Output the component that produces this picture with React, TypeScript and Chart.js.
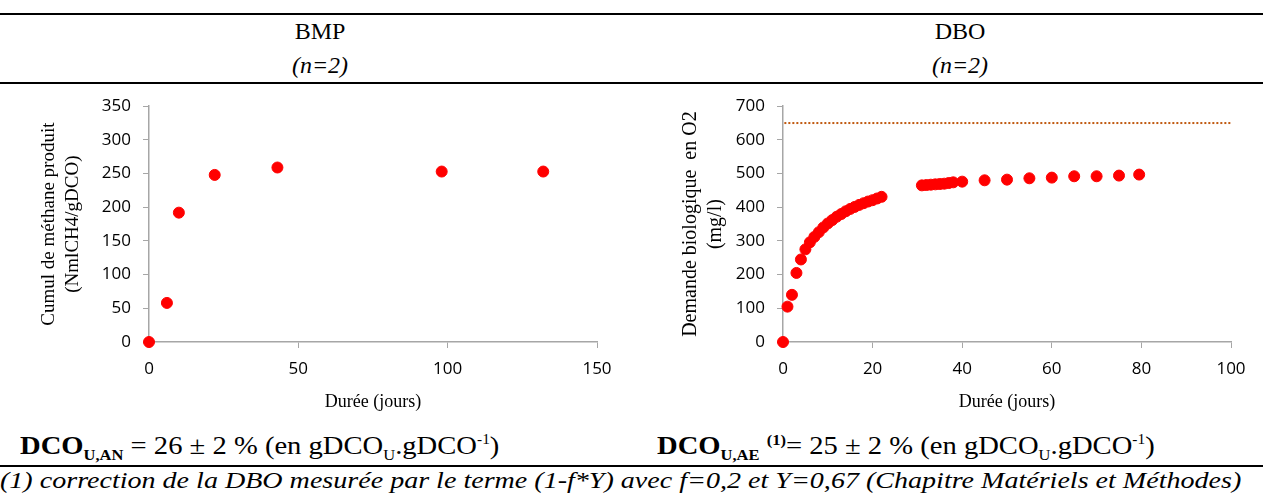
import React, { useEffect, useRef } from "react";
import { Chart, registerables } from "chart.js";

Chart.register(...registerables);

// BMP data
const bmpDays = [0, 6, 10, 22, 43, 98, 132];
const bmpValues = [0, 58, 192, 248, 259, 253, 253];
const bmpXTicks = [0, 50, 100, 150];
const bmpYTicks = [0, 50, 100, 150, 200, 250, 300, 350];

// DBO data
const dboDays = [0, 1, 2, 3, 4, 5, 6, 7, 8, 9, 10, 11, 12, 13, 14, 15, 16, 17, 18, 19, 20, 21, 22,
  31, 32, 33, 34, 35, 36, 37, 38, 40, 45, 50, 55, 60, 65, 70, 75, 79.5];
const dboValues = [0, 105, 140, 205, 245, 275, 296, 312, 326, 340, 352, 362, 372, 380, 388, 395, 401, 407, 412, 417, 421, 426, 431,
  465, 466, 467, 468, 469, 470, 472, 474, 476, 480, 482, 486, 488, 492, 492, 494, 497];
const dboRefLevel = 650;
const dboRefDays = [0.3, 100];
const dboXTicks = [0, 20, 40, 60, 80, 100];
const dboYTicks = [0, 100, 200, 300, 400, 500, 600, 700];

const AXIS_GRAY = "#a6a6a6";
const TICK_FONT = { family: "'Open Sans', 'Noto Sans', sans-serif", size: 17 };
const SERIF = "'Liberation Serif', 'Times New Roman', serif";

function makeScales(xMax: number, xStep: number, yMax: number, yStep: number, yTitle: string[], yTitleSize: number, yWidth: number, xHeight: number) {
  return {
    x: {
      type: "linear" as const,
      min: 0,
      max: xMax,
      ticks: { stepSize: xStep, color: "#000", font: TICK_FONT, padding: 11 },
      grid: { drawOnChartArea: false, drawTicks: true, tickLength: 6, color: AXIS_GRAY },
      border: { color: AXIS_GRAY, width: 1.5 },
      title: { display: true, text: "Durée (jours)", color: "#000", font: { family: SERIF, size: 18 }, padding: { top: 0, bottom: 8 } },
      afterFit: (s: any) => { s.height = xHeight; },
    },
    y: {
      type: "linear" as const,
      min: 0,
      max: yMax,
      ticks: { stepSize: yStep, color: "#000", font: TICK_FONT, padding: 12 },
      grid: { drawOnChartArea: false, drawTicks: true, tickLength: 6, color: AXIS_GRAY },
      border: { color: AXIS_GRAY, width: 1.5 },
      title: { display: true, text: yTitle, color: "#000", font: { family: SERIF, size: yTitleSize, lineHeight: 1.25 }, padding: { top: 0, bottom: 0 } },
      afterFit: (s: any) => { s.width = yWidth; },
    },
  };
}

function BmpChart() {
  const ref = useRef<HTMLCanvasElement>(null);
  useEffect(() => {
    const chart = new Chart(ref.current!, {
      type: "scatter",
      data: {
        datasets: [
          {
            data: bmpDays.map((d, i) => ({ x: d, y: bmpValues[i] })),
            backgroundColor: "#ff0000",
            borderColor: "#ff0000",
            pointRadius: 5.5,
            clip: false,
          } as any,
        ],
      },
      options: {
        animation: false,
        responsive: true,
        maintainAspectRatio: false,
        layout: { padding: { left: 37, right: 34, top: 8, bottom: 0 } },
        plugins: { legend: { display: false }, tooltip: { enabled: false } },
        scales: makeScales(bmpXTicks[bmpXTicks.length - 1], bmpXTicks[1] - bmpXTicks[0], bmpYTicks[bmpYTicks.length - 1], bmpYTicks[1] - bmpYTicks[0], ["Cumul de méthane produit", "(NmlCH4/gDCO)"], 19, 112, 79) as any,
      },
    });
    return () => chart.destroy();
  }, []);
  return <canvas ref={ref} />;
}

function DboChart() {
  const ref = useRef<HTMLCanvasElement>(null);
  useEffect(() => {
    const chart = new Chart(ref.current!, {
      type: "scatter",
      data: {
        datasets: [
          {
            data: dboRefDays.map((d) => ({ x: d, y: dboRefLevel })),
            showLine: true,
            borderColor: "#c0590f",
            borderWidth: 2,
            borderDash: [2, 2],
            pointRadius: 0,
          },
          {
            data: dboDays.map((d, i) => ({ x: d, y: dboValues[i] })),
            backgroundColor: "#ff0000",
            borderColor: "#ff0000",
            pointRadius: 5.5,
            clip: false,
          } as any,
        ],
      },
      options: {
        animation: false,
        responsive: true,
        maintainAspectRatio: false,
        layout: { padding: { left: 38, right: 32, top: 9, bottom: 0 } },
        plugins: { legend: { display: false }, tooltip: { enabled: false } },
        scales: makeScales(dboXTicks[dboXTicks.length - 1], dboXTicks[1] - dboXTicks[0], dboYTicks[dboYTicks.length - 1], dboYTicks[1] - dboYTicks[0], ["Demande biologique  en O2", "(mg/l)"], 20, 105, 79) as any,
      },
    });
    return () => chart.destroy();
  }, []);
  return <canvas ref={ref} />;
}

export default function App() {
  useEffect(() => {
    document.body.style.margin = "0";
  }, []);
  const rule = (top: number): React.CSSProperties => ({ position: "absolute", left: 0, top, width: 1263, height: 2, background: "#000" });
  const head: React.CSSProperties = { position: "absolute", width: 640, textAlign: "center", fontFamily: SERIF, fontSize: 24, lineHeight: "28px", color: "#000" };
  const big: React.CSSProperties = { fontFamily: SERIF, fontSize: 26, color: "#000", whiteSpace: "nowrap", position: "absolute", top: 423, lineHeight: "34px", transformOrigin: "0 0", transform: "scaleX(1.1)" };
  return (
    <div style={{ position: "relative", width: 1263, height: 493, background: "#fff", overflow: "hidden" }}>
      <div style={rule(13)} />
      <div style={{ ...head, left: 0, top: 17 }}>BMP</div>
      <div style={{ ...head, left: 0, top: 51, fontStyle: "italic" }}>(n=2)</div>
      <div style={{ ...head, left: 640, top: 17 }}>DBO</div>
      <div style={{ ...head, left: 640, top: 51, fontStyle: "italic" }}>(n=2)</div>
      <div style={rule(82)} />
      <div style={{ position: "absolute", left: 0, top: 84, width: 631, height: 337 }}>
        <BmpChart />
      </div>
      <div style={{ position: "absolute", left: 640, top: 84, width: 623, height: 337 }}>
        <DboChart />
      </div>
      <div style={{ ...big, left: 20 }}>
        <b style={{ fontSize: 26 }}>DCO</b><b style={{ fontSize: 15, verticalAlign: -6 }}>U,AN</b> = 26 ± 2 %  (en gDCO<sub style={{ fontSize: 15 }}>U</sub>.gDCO<sup style={{ fontSize: 14 }}>-1</sup>)
      </div>
      <div style={{ ...big, left: 657 }}>
        <b style={{ fontSize: 26 }}>DCO</b><b style={{ fontSize: 15, verticalAlign: -6 }}>U,AE</b> <b style={{ fontSize: 15, verticalAlign: 9 }}>(1)</b>= 25 ± 2 %  (en gDCO<sub style={{ fontSize: 15 }}>U</sub>.gDCO<sup style={{ fontSize: 14 }}>-1</sup>)
      </div>
      <div style={rule(465)} />
      <div style={{ position: "absolute", left: 0, top: 468, fontFamily: SERIF, fontStyle: "italic", fontSize: 23, lineHeight: "26px", whiteSpace: "nowrap", color: "#000", transformOrigin: "0 0", transform: "scaleX(1.22)" }}>
        (1) correction de la DBO mesurée par le terme (1-f*Y) avec f=0,2 et Y=0,67 (Chapitre Matériels et Méthodes)
      </div>
    </div>
  );
}
